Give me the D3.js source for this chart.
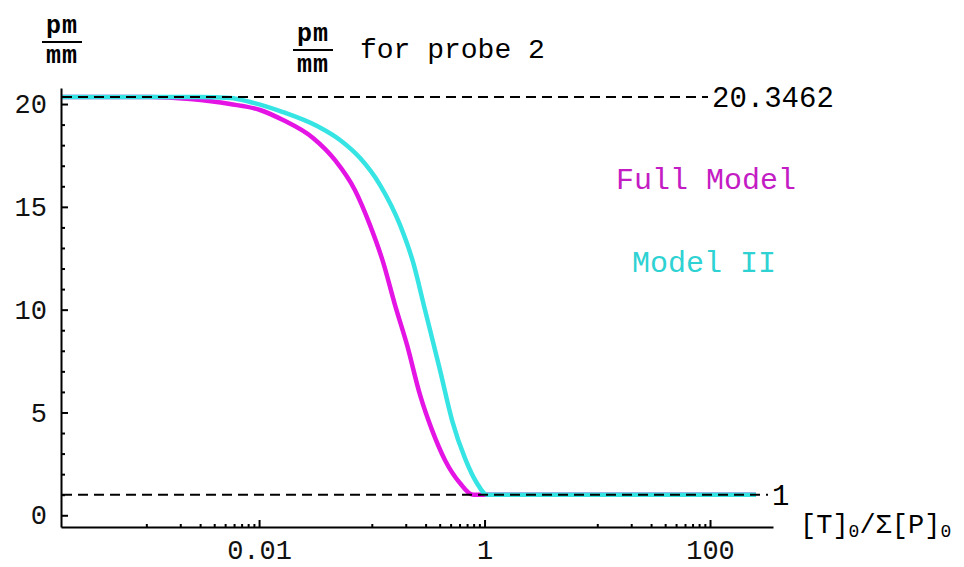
<!DOCTYPE html>
<html><head><meta charset="utf-8">
<script src="https://cdn.jsdelivr.net/npm/d3@7"></script>
<style>body{margin:0;background:#fff;} svg{display:block;}</style>
</head><body>
<svg id="c" width="964" height="567"></svg>
<script>
// ---- data ----
const fullX = [1.79e-4, 1.08e-3, 2.44e-3, 5.53e-3, 0.0102, 0.0163, 0.0301, 0.0472, 0.0709, 0.0964, 0.1259, 0.1607, 0.2056, 0.2682, 0.3424, 0.4462, 0.6067, 0.7907, 1.0, 256];
const fullY = [20.3462, 20.34, 20.24, 20.0, 19.71, 19.22, 18.35, 17.27, 15.81, 14.11, 12.31, 10.22, 8.27, 5.84, 4.14, 2.68, 1.56, 1.0, 1.0, 1.0];
const model2X = [1.79e-4, 3.0e-3, 5.53e-3, 8.32e-3, 0.0163, 0.0327, 0.0522, 0.0787, 0.1184, 0.1782, 0.2323, 0.2966, 0.4027, 0.515, 0.6714, 0.857, 1.05, 256];
const model2Y = [20.3462, 20.34, 20.29, 20.10, 19.61, 18.93, 18.25, 17.37, 16.06, 14.11, 12.31, 9.98, 7.06, 4.62, 2.77, 1.56, 1.0, 1.0];
const yMajor = [0, 5, 10, 15, 20];
const yMinor = [1,2,3,4,6,7,8,9,11,12,13,14,16,17,18,19];
const xMajor = [0.01, 1, 100];
const xMajorLabels = ["0.01", "1", "100"];
const xMinorDecades = [0.001, 0.1, 10];
const refHigh = 20.3462;
const refLow = 1;
const seriesNames = ["Full Model", "Model II"];

// ---- scales ----
const svg = d3.select("#c");
const x = d3.scaleLog().domain([1.75e-4, 362]).range([61, 773]);
const y = d3.scaleLinear().domain([-0.57, 20.78]).range([527, 88]);
const font = "'Courier New', 'Liberation Mono', monospace";

const xMinor = [];
xMinorDecades.forEach(d => { for (let k = 1; k <= 9; k++) xMinor.push(d * k); });

// curves
const line = d3.line().x(d => x(d[0])).y(d => y(d[1])).curve(d3.curveMonotoneX);
svg.append("path").datum(d3.zip(fullX, fullY)).attr("d", line)
  .attr("fill", "none").attr("stroke", "#e414e4").attr("stroke-width", 4.5).attr("stroke-linejoin", "round");
svg.append("path").datum(d3.zip(model2X, model2Y)).attr("d", line)
  .attr("fill", "none").attr("stroke", "#36e4e4").attr("stroke-width", 4.5).attr("stroke-linejoin", "round");

// dashed reference lines
svg.append("line").attr("x1", 62).attr("x2", 708).attr("y1", y(refHigh)).attr("y2", y(refHigh))
  .attr("stroke", "#000").attr("stroke-width", 2).attr("stroke-dasharray", "10,6");
svg.append("line").attr("x1", 62).attr("x2", 768).attr("y1", y(refLow)).attr("y2", y(refLow))
  .attr("stroke", "#000").attr("stroke-width", 2).attr("stroke-dasharray", "10,6");
svg.append("text").attr("x", 712).attr("y", y(refHigh)).attr("dy", "0.35em")
  .attr("font-family", font).attr("font-size", 29).text(String(refHigh));
svg.append("text").attr("x", 772).attr("y", y(refLow)).attr("dy", "0.35em")
  .attr("font-family", font).attr("font-size", 29).text(String(refLow));

// axes
const yAxisMajor = d3.axisLeft(y).tickValues(yMajor).tickSizeInner(-7).tickSizeOuter(0).tickPadding(14).tickFormat(d3.format("d"));
const yAxisMinor = d3.axisLeft(y).tickValues(yMinor).tickSizeInner(-4).tickSizeOuter(0).tickFormat("");
svg.append("g").attr("transform", "translate(61,0)").call(yAxisMajor);
svg.append("g").attr("transform", "translate(61,0)").call(yAxisMinor).select(".domain").remove();
const xAxisMajor = d3.axisBottom(x).tickValues(xMajor).tickSizeInner(-7).tickSizeOuter(0).tickPadding(13)
  .tickFormat((d, i) => xMajorLabels[i]);
const xAxisMinor = d3.axisBottom(x).tickValues(xMinor).tickSizeInner(-3).tickSizeOuter(0).tickFormat("");
svg.append("g").attr("transform", "translate(0,527)").call(xAxisMajor);
svg.append("g").attr("transform", "translate(0,527)").call(xAxisMinor).select(".domain").remove();

svg.selectAll(".domain").attr("stroke", "#000").attr("stroke-width", 2);
svg.selectAll(".tick line").attr("stroke", "#000").attr("stroke-width", 2);
svg.selectAll(".tick text").attr("font-family", font).attr("font-size", 27).attr("fill", "#111");

// axis label
const xl = svg.append("text").attr("x", 800).attr("y", 533).attr("font-family", font).attr("font-size", 27);
xl.append("tspan").text("[T]");
xl.append("tspan").attr("font-size", 18).attr("dy", 4).text("0");
xl.append("tspan").attr("dy", -4).text("/Σ[P]");
xl.append("tspan").attr("font-size", 18).attr("dy", 4).text("0");

// fractions pm/mm
function frac(cx, pmBase, barY, mmBase) {
  svg.append("text").attr("x", cx).attr("y", pmBase).attr("text-anchor", "middle")
    .attr("font-family", font).attr("font-size", 25).attr("font-weight", "bold").attr("letter-spacing", 1).text("pm");
  svg.append("line").attr("x1", cx - 20).attr("x2", cx + 20).attr("y1", barY).attr("y2", barY)
    .attr("stroke", "#000").attr("stroke-width", 2);
  svg.append("text").attr("x", cx).attr("y", mmBase).attr("text-anchor", "middle")
    .attr("font-family", font).attr("font-size", 25).attr("font-weight", "bold").attr("letter-spacing", 1).text("mm");
}
frac(62, 33, 42, 63);
frac(313, 41, 50, 72);
svg.append("text").attr("x", 360).attr("y", 58).attr("font-family", font).attr("font-size", 28).text("for probe 2");

// legend labels
svg.append("text").attr("x", 616).attr("y", 178).attr("dy", "0.35em").attr("font-family", font)
  .attr("font-size", 30).attr("fill", "#c41cc4").text(seriesNames[0]);
svg.append("text").attr("x", 632).attr("y", 261).attr("dy", "0.35em").attr("font-family", font)
  .attr("font-size", 30).attr("fill", "#2ed2d2").text(seriesNames[1]);
</script>
</body></html>
